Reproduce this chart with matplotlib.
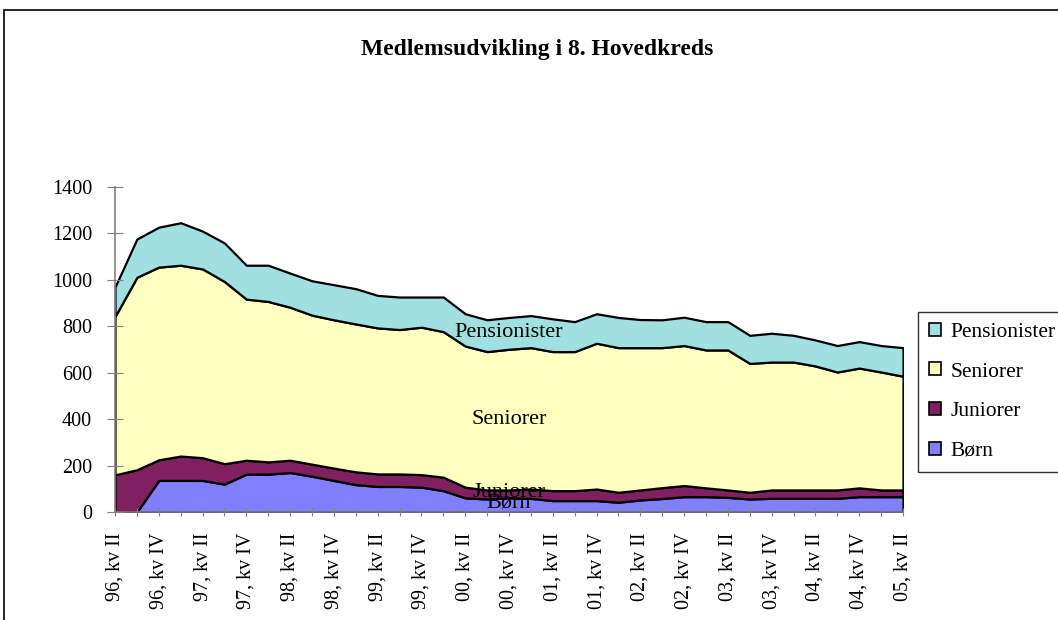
import matplotlib
matplotlib.use("Agg")
import matplotlib.pyplot as plt
from matplotlib.patches import Patch, Rectangle

plt.rcParams['font.family'] = ['Liberation Serif', 'DejaVu Serif']

# Kvartaler 96 kv II .. 05 kv II
roman = ["I", "II", "III", "IV"]
quarters = []
for yr in ["96", "97", "98", "99", "00", "01", "02", "03", "04", "05"]:
    for q in roman:
        quarters.append(yr + ", kv " + q)
quarters = quarters[1:-2]

born = [0, 0, 136, 136, 136, 120, 163, 163, 170, 154, 136, 118, 110, 110,
        107, 92, 61, 56, 61, 59, 49, 49, 49, 42, 52, 58, 66, 66, 63, 56, 59,
        59, 59, 59, 66, 66, 66]
juniorer = [160, 182, 89, 105, 98, 88, 60, 53, 53, 52, 53, 55, 54, 54, 54,
            58, 46, 39, 34, 40, 43, 43, 50, 43, 43, 47, 48, 38, 32, 29, 36,
            36, 36, 36, 38, 29, 29]
seniorer = [682, 829, 830, 822, 813, 785, 694, 691, 659, 642, 639, 637, 629,
            622, 635, 627, 608, 596, 606, 609, 599, 599, 628, 623, 613, 603,
            603, 594, 603, 555, 551, 551, 534, 508, 516, 508, 490]
pensionister = [127, 165, 172, 183, 163, 166, 146, 156, 147, 148, 151, 152,
                140, 140, 130, 149, 139, 137, 137, 138, 141, 129, 127, 130,
                121, 120, 122, 122, 122, 121, 124, 115, 112, 114, 114, 114,
                123]

names = ["Børn", "Juniorer", "Seniorer", "Pensionister"]
colors = ["#8080FF", "#802060", "#FFFFC0", "#A0E0E0"]

W, H = 1058, 620
fig = plt.figure(figsize=(W / 100, H / 100), dpi=100)

# chart area border
fig.patches.append(Rectangle((4 / W, -0.1), 1.2, 1.1 - 10 / H,
                             transform=fig.transFigure, fill=False,
                             edgecolor='black', linewidth=1.2))

ax = fig.add_axes([115 / W, (H - 512) / H, (903 - 115) / W, (512 - 187) / H])
x = list(range(len(quarters)))
ax.stackplot(x, born, juniorer, seniorer, pensionister, colors=colors,
             edgecolor='black', linewidth=1.6)

ax.set_xlim(0, len(quarters) - 1)
ax.set_ylim(0, 1400)
ax.set_yticks(range(0, 1401, 200))
ax.set_xticks(x)
ax.set_xticklabels([q if i % 2 == 0 else "" for i, q in enumerate(quarters)],
                   rotation=90, fontsize=14.5)
ax.tick_params(axis='y', labelsize=14.5, direction='inout', length=11,
               color='#808080', pad=11)
ax.tick_params(axis='x', direction='inout', length=6, color='#808080', pad=12)
for s in ['top', 'right']:
    ax.spines[s].set_visible(False)
for s in ['left', 'bottom']:
    ax.spines[s].set_color('#808080')
    ax.spines[s].set_linewidth(1.2)

# serie-etiketter
lbl = dict(ha='center', va='center', fontsize=16)
ax.text(18, 773, "Pensionister", **lbl)
ax.text(18, 398, "Seniorer", **lbl)
ax.text(18, 86, "Juniorer", **lbl)
ax.text(18, 39, "Børn", **lbl)

fig.text(537 / W, 1 - 50 / H, "Medlemsudvikling i 8. Hovedkreds",
         ha='center', va='center', fontsize=17, fontweight='bold')

handles = [Patch(facecolor=c, edgecolor='black', linewidth=1.2, label=n)
           for c, n in zip(colors, names)]
leg = fig.legend(handles=handles[::-1], loc='upper left',
                 bbox_to_anchor=(918 / W, 1 - 312 / H), fontsize=15.5,
                 frameon=True, fancybox=False, handlelength=0.56,
                 handleheight=0.56, handletextpad=0.45, labelspacing=0.95,
                 borderpad=0.5, borderaxespad=0)
leg.get_frame().set_edgecolor('black')
leg.get_frame().set_linewidth(1.0)

fig.savefig("out.png", dpi=100)
